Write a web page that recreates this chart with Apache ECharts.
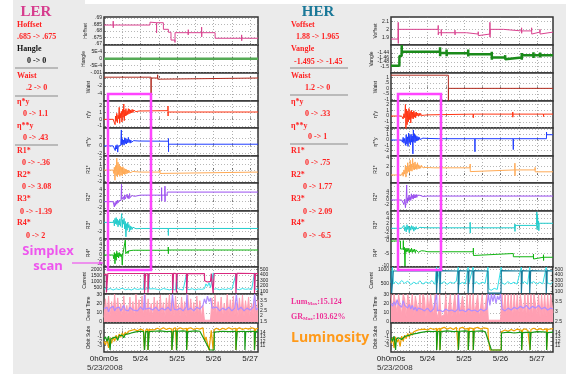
<!DOCTYPE html>
<html><head><meta charset="utf-8">
<script src="https://cdn.jsdelivr.net/npm/echarts@6.0.0/dist/echarts.min.js"></script>
<style>html,body{margin:0;padding:0;background:#fff}#c{width:566px;height:374px}</style>
</head><body><div id="c"></div>
<script>
// ---------- time axis (hours from 5/23 0h) ----------
const dayTickHours = [0, 24, 48, 72, 96];
const dayTickLabels = ['0h0m0s', '5/24', '5/25', '5/26', '5/27'];
const halfDayGridHours = [12, 24, 36, 48, 60, 72, 84, 96];

// ---------- LER data ----------
const lerHoffset = [[0,.6846],[6,.6846],[6.05,.6876],[6.1,.6825],[6.15,.6846],[30.2,.6846],[30.25,.6868],[30.3,.6864],[34.5,.6864],[34.55,.6785],[34.6,.6864],[39,.6864],[39.05,.6813],[42.3,.6813],[42.35,.6790],[44,.6790],[44.05,.6730],[46.6,.6730],[46.65,.6712],[46.7,.6787],[55.3,.6787],[55.35,.6770],[55.4,.6810],[55.45,.6787],[64.1,.6787],[64.15,.6830],[64.2,.6755],[64.25,.6787],[73,.6787],[73.05,.6744],[90.4,.6744],[90.45,.6770],[90.5,.6725],[90.55,.6744],[101.2,.6744]];
const lerHangle = [[0,0],[101.2,0]];
const lerWaist = [[0,0.2],[30.9,0.2],[30.95,-5.3],[31,0],[35.2,0],[35.25,0.8],[35.3,-0.3],[35.35,0],[101.2,0]];
const lerEtaY = [[0,0],[6,0],[7,0],[7.3,-0.8],[7.6,0.5],[8,-0.3],[8.4,0.9],[8.8,-0.5],[9.2,0.6],[9.6,0.1],[10,1.8],[10.3,-0.6],[10.7,0.9],[11,0.2],[11.4,1.2],[11.8,-0.4],[12.2,1.5],[12.6,0.3],[13,2.3],[13.3,-0.2],[13.7,1.4],[14,0.5],[14.4,1.6],[14.8,0.6],[15.2,1.3],[15.6,0.7],[16,1.6],[16.4,0.8],[16.8,1.5],[17.2,0.9],[17.6,1.4],[18,1.0],[18.5,1.5],[19,1.0],[19.5,1.4],[20,1.1],[20.5,1.45],[21,1.15],[22,1.3],[23,1.25],[24,1.3],[42,1.3],[42.05,2.0],[42.1,0.5],[42.15,1.1],[101.2,1.1]];
const lerEta2Y = [[0,0],[6,0],[6.5,-0.3],[7,0.2],[7.4,-1.2],[7.8,0.1],[8.2,-0.8],[8.6,0.3],[9,-1.6],[9.4,0],[9.8,-0.5],[10.2,0.4],[10.6,-0.3],[11,0.1],[11.4,4.1],[11.6,0.3],[12,1.8],[12.4,0.4],[12.8,1.5],[13.2,0.2],[13.6,2.1],[14,0.6],[14.4,1.9],[14.8,0.5],[15.2,1.7],[15.6,0.8],[16,2.2],[16.4,0.9],[16.8,1.6],[17.2,0.7],[17.6,1.5],[18,0.9],[18.5,1.4],[19,1.0],[19.5,1.35],[20,1.05],[21,1.3],[22,1.15],[23,1.25],[24,1.2],[42.3,1.2],[42.35,1.9],[42.4,-1.5],[42.45,0.43],[101.2,0.43]];
const lerR1 = [[0,0],[6,0],[6.4,-0.6],[6.8,0.5],[7.2,-1.8],[7.6,0.8],[8,-0.9],[8.4,2.1],[8.8,-1.2],[9.2,1.4],[9.6,-0.8],[10,1.0],[10.4,-1.1],[10.8,0.7],[11.2,-0.9],[11.6,0.5],[12,-1.0],[12.4,0.6],[12.8,-0.7],[13.2,0.3],[13.6,-0.8],[14,0.2],[14.4,-0.7],[14.8,0.1],[15.2,-0.6],[15.6,0],[16,-0.5],[16.5,-0.1],[17,-0.5],[17.5,-0.2],[18,-0.45],[19,-0.25],[20,-0.4],[21,-0.3],[22,-0.38],[24,-0.36],[36.7,-0.36],[36.75,0],[36.8,-0.6],[36.85,-0.36],[101.2,-0.36]];
const lerR2 = [[0,0],[6,0],[6.4,-0.6],[6.8,-1.7],[7.2,-0.3],[7.6,-1.2],[8,0.2],[8.4,-0.8],[8.8,0.5],[9.2,-0.4],[9.6,0.3],[10,-0.2],[10.4,0.6],[10.8,0],[11.2,0.4],[11.5,5.6],[11.7,0.8],[12,1.4],[12.4,0.3],[12.8,1.6],[13.2,0.6],[13.6,2.2],[14,0.9],[14.4,1.4],[14.8,0.5],[15.2,2.4],[15.6,1.1],[16,1.8],[16.4,0.9],[16.8,2.6],[17.2,1.3],[17.6,1.9],[18,1.2],[18.5,2.0],[19,1.5],[19.5,2.1],[20,1.7],[21,2.0],[22,1.9],[24,2.1],[37.8,2.1],[37.85,4.5],[37.9,0.2],[37.95,2.1],[40,2.1],[40.05,5.0],[40.1,0],[40.15,2.1],[41.5,2.1],[41.55,3.08],[101.2,3.08]];
const lerR3 = [[0,0],[6,0],[6.4,0.5],[6.8,-0.8],[7.2,0.9],[7.6,-0.3],[8,1.1],[8.4,-0.5],[8.8,0.7],[9.2,-1.0],[9.6,0.4],[10,-0.6],[10.4,0.8],[10.8,-0.9],[11.2,0.3],[11.6,2.0],[12,-1.2],[12.4,0.6],[12.8,-0.4],[13.2,0.9],[13.6,-1.5],[14,0.2],[14.4,-3.3],[14.8,-0.3],[15.2,-1.8],[15.6,0],[16,-1.2],[16.4,-0.5],[16.8,-2.1],[17.2,-0.8],[17.6,-1.7],[18,-1.0],[18.5,-1.6],[19,-1.1],[19.5,-1.5],[20,-1.25],[21,-1.45],[22,-1.3],[24,-1.39],[42.2,-1.39],[42.25,-1.2],[42.3,-3.0],[42.35,-1.39],[101.2,-1.39]];
const lerR4 = [[0,0],[6,0],[6.4,-1.5],[6.8,1.0],[7.2,-3.5],[7.6,0.5],[8,-2.0],[8.4,1.5],[8.8,-0.8],[9.2,0.8],[9.6,-1.2],[10,1.0],[10.4,-0.5],[10.8,0.5],[11.2,-0.7],[11.6,0.2],[12,-4.0],[12.4,0.4],[12.8,-0.3],[13.2,0.8],[13.6,-0.2],[14,6.0],[14.3,0.5],[14.6,1.2],[15,0.3],[15.4,1.5],[15.8,0.6],[16.2,1.6],[16.6,0.9],[17,1.7],[17.4,1.0],[17.8,1.8],[18.2,1.2],[18.6,1.8],[19,1.4],[19.5,1.9],[20,1.5],[21,1.9],[22,1.7],[24,1.9],[42.2,1.9],[42.25,3.2],[42.3,0.5],[42.35,2.0],[101.2,2.0]];
const lerCurrent = [[0,1550],[1.5,1600],[1.6,100],[2.4,100],[2.5,1650],[26.5,1650],[26.6,50],[27.2,50],[27.3,1650],[28.8,1640],[28.9,80],[29.5,80],[29.6,1650],[45,1650],[45.1,60],[45.6,60],[45.7,1660],[47.5,1650],[47.6,100],[48,100],[48.1,1650],[54.2,1650],[54.3,40],[54.8,40],[54.9,1640],[66,1650],[66.1,1050],[67,1150],[68,950],[69,1100],[70,1000],[70.5,1650],[71.6,1650],[71.7,60],[72.3,60],[72.4,1650],[86.6,1650],[86.7,50],[87.3,50],[87.4,1660],[98.8,1650],[98.9,60],[99.4,60],[99.5,1650],[101.2,1640]];
const lerCurrentB = [[0,380],[1.5,420],[1.6,1500],[1.8,300],[2.5,350],[4,420],[6,300],[8,400],[10,330],[12,450],[14,320],[16,380],[18,300],[20,420],[22,340],[24,390],[26,350],[26.6,1700],[26.8,350],[28,300],[29,420],[29.5,1650],[29.7,380],[31,310],[33,400],[35,350],[37,300],[39,420],[41,360],[43,310],[45,380],[45.2,1680],[45.4,340],[47,300],[48,1600],[48.2,420],[50,350],[52,300],[54.3,1650],[54.5,380],[56,330],[58,400],[60,300],[62,380],[64,350],[66,400],[67,800],[68,600],[69,900],[70,500],[71,420],[71.8,1700],[72,350],[74,400],[76,320],[78,390],[80,340],[82,410],[84,330],[86.8,1650],[87,380],[89,320],[91,420],[93,350],[95,390],[97,330],[98.9,1700],[99.1,380],[101.2,350]];
const lerDeadA = [[0,5],[1,25],[2,8],[3,28],[4,6],[5,22],[6,10],[7,30],[8,7],[9,26],[10,9],[11,20],[12,5],[13,28],[14,8],[15,18],[16,6],[17,27],[18,9],[19,22],[20,5],[21,30],[22,7],[23,24],[24,10],[25,28],[26,6],[27,30],[28,8],[29,25],[30,7],[31,20],[32,5],[33,27],[34,9],[35,23],[36,6],[37,29],[38,8],[39,21],[40,5],[41,26],[42,10],[43,30],[44,7],[45,24],[46,6],[47,28],[48,9],[49,19],[50,6],[51,27],[52,8],[53,22],[54,5],[55,30],[56,9],[57,25],[58,7],[59,21],[60,6],[61,28],[62,8],[63,23],[64,5],[65,18],[66,2],[67,3],[68,2],[69,4],[70,2],[71,26],[72,8],[73,29],[74,6],[75,22],[76,9],[77,27],[78,5],[79,20],[80,8],[81,30],[82,6],[83,24],[84,9],[85,28],[86,7],[87,21],[88,5],[89,26],[90,8],[91,29],[92,6],[93,23],[94,9],[95,27],[96,5],[97,20],[98,8],[99,28],[100,7],[101.2,24]];
const lerDeadB = [[0,14],[1,12],[2,16],[3,11],[4,15],[5,13],[6,17],[7,12],[8,15],[9,13],[10,16],[11,12],[12,14],[13,18],[14,13],[15,15],[16,12],[17,16],[18,14],[19,13],[20,15],[22,12],[24,16],[26,13],[26.6,30],[27,14],[28,12],[30,15],[32,13],[34,16],[36,12],[38,15],[40,13],[42,16],[44,12],[45,30],[46,14],[48,13],[50,15],[52,12],[54,16],[54.5,30],[55,13],[57,15],[59,12],[61,16],[63,14],[65,18],[66,25],[67,20],[68,28],[69,22],[70,26],[71,15],[72,13],[74,16],[76,12],[78,15],[80,13],[82,16],[84,12],[86,15],[87,30],[88,13],[90,16],[92,12],[94,15],[96,13],[98,16],[99,30],[100,13],[101.2,15]];
const lerLum = [[0,12],[1,11.2],[2,12.5],[3,10.5],[4,12.8],[5,11.5],[6,13],[7,12],[8,13.4],[9,12.6],[10,13.7],[11,12.9],[12,13.9],[13,13.3],[14,14.1],[15,13.6],[16,14.3],[17,13.9],[18,14.5],[19,14.1],[20,14.7],[22,14.4],[24,14.8],[26,14.5],[26.6,10],[27.2,10],[27.4,14.6],[28.8,14.8],[28.9,10],[29.5,10],[29.7,14.7],[31,14.9],[33,14.6],[35,15],[37,14.7],[39,15.1],[41,14.7],[43,15],[44.5,14.8],[44.6,10],[45.5,10],[45.6,14.9],[47,15.1],[47.6,10],[48,10],[48.2,14.8],[50,15.1],[52,14.8],[54.2,15],[54.3,10],[54.9,10],[55,14.9],[57,15.1],[59,14.7],[61,15],[63,14.8],[65,15.1],[66,14.9],[66.2,12],[67,13],[68,11.5],[69,10],[70,10],[70.5,14.5],[71.6,14.6],[71.7,10],[72.4,10],[72.5,14.7],[74,15],[76,14.6],[78,15],[80,14.7],[82,15.1],[84,14.8],[86.6,15],[86.7,10],[87.4,10],[87.5,14.8],[89,15.1],[91,14.7],[93,15],[95,14.8],[97,15.1],[98.8,14.9],[98.9,10],[99.5,10],[99.6,14.8],[101.2,15]];
const lerLumSpec = [[0,12.5],[1,13],[2,12],[3,13.2],[4,10],[4.5,12.5],[6,12.8],[8,13],[9,12.2],[10,13.3],[12,13.4],[13,12.8],[14,13.6],[16,13.7],[18,13.9],[20,14.1],[22,14.2],[24,14.3],[26,14.2],[26.6,10],[27.2,10],[27.4,14.2],[28.8,14.3],[28.9,10],[29.5,10],[29.7,14.2],[33,14.3],[37,14.4],[41,14.2],[44.5,14.3],[44.6,10],[45.5,10],[45.6,14.3],[47.6,14.4],[47.7,10],[48,10],[48.2,14.3],[52,14.4],[54.2,14.3],[54.3,10],[54.9,10],[55,14.2],[60,14.4],[63,14.3],[69.5,10],[72.4,10],[72.5,14.1],[78,14.3],[82,14.2],[86.6,14.3],[86.7,10],[87.4,10],[87.5,14.2],[92.5,14.3],[92.6,10],[93,10],[93.1,14.2],[98.8,14.3],[98.9,10],[99.5,10],[99.6,14.2],[101.2,14.3]];

// ---------- HER data ----------
const herVoffset = [[0,1.876],[4.7,1.876],[4.75,2.09],[4.8,1.82],[4.85,2.0],[31,2.0],[31.05,2.05],[31.1,1.93],[31.15,1.957],[33,1.957],[33.05,2.0],[33.1,1.92],[33.15,1.957],[42,1.957],[42.05,1.99],[42.1,1.93],[42.15,1.957],[49.7,1.957],[49.75,1.94],[57.3,1.94],[57.35,1.97],[57.4,1.92],[57.45,1.94],[65,1.94],[65.05,2.09],[65.1,1.9],[65.15,2.0],[73.9,2.0],[73.95,1.98],[85.8,1.98],[85.85,2.02],[85.9,1.95],[85.95,1.98],[92.4,1.98],[92.45,2.02],[92.5,1.94],[92.55,1.965],[97.9,1.965],[97.95,2.0],[98,1.94],[98.05,1.965],[106.5,1.965]];
const herVangle = [[0,-1.497],[5.5,-1.497],[5.55,-1.454],[7,-1.454],[7.05,-1.405],[7.1,-1.435],[32.2,-1.435],[32.25,-1.415],[32.3,-1.455],[32.35,-1.44],[36.5,-1.44],[36.55,-1.425],[36.6,-1.455],[36.65,-1.442],[50.7,-1.442],[50.75,-1.425],[50.8,-1.456],[50.85,-1.446],[66.2,-1.446],[66.25,-1.435],[66.3,-1.47],[66.35,-1.46],[75,-1.46],[75.05,-1.45],[75.1,-1.468],[75.15,-1.46],[85.9,-1.46],[85.95,-1.44],[86,-1.47],[86.05,-1.45],[93.6,-1.45],[93.65,-1.437],[93.7,-1.462],[93.75,-1.45],[98,-1.45],[98.05,-1.438],[98.1,-1.46],[98.15,-1.45],[106.5,-1.45]];
const herWaist = [[0,1.2],[37.7,1.2],[37.75,-1.1],[37.8,0],[106.5,0]];
const herEtaY = [[0,0],[7,0],[7.5,0.3],[8,-0.5],[8.5,0.4],[9,-0.3],[9.5,2.0],[9.8,-2.3],[10.2,1.2],[10.6,-1.5],[11,0.9],[11.4,-1.0],[11.8,1.3],[12.2,-0.6],[12.6,0.8],[13,-1.2],[13.4,1.0],[13.8,-0.4],[14.2,0.7],[14.6,-0.5],[15,0.9],[15.4,-0.2],[15.8,0.6],[16.2,-0.3],[16.6,0.7],[17,0],[17.5,0.5],[18,0],[18.5,0.5],[19,0.05],[19.5,0.45],[20,0.1],[21,0.4],[22,0.15],[23,0.35],[24,0.2],[25,0.33],[54,0.33],[54.05,0.6],[54.1,-0.3],[54.15,0.33],[80,0.33],[80.05,0.7],[80.1,-0.2],[80.15,0.33],[100.2,0.33],[100.25,0.6],[100.3,-0.1],[100.35,0.33],[106.5,0.33]];
const herEta2Y = [[0,0],[7,0],[7.5,-0.4],[8,0.5],[8.5,-0.6],[9,0.3],[9.5,-1.0],[10,1.0],[10.4,-0.8],[10.8,0.6],[11.2,-1.2],[11.6,1.3],[12,-0.5],[12.4,0.9],[12.8,-0.9],[13.2,1.1],[13.6,-0.4],[14,0.8],[14.4,-2.6],[14.7,1.9],[15,-0.3],[15.4,1.2],[15.8,-0.5],[16.2,0.9],[16.6,-0.2],[17,0.7],[17.4,-0.1],[17.8,0.6],[18.2,0],[18.6,0.5],[19,0.1],[19.5,0.4],[20,0.15],[21,0.35],[22,0.2],[24,0.3],[31,0.25],[55.1,0.25],[55.15,0.5],[55.2,-2.2],[55.25,0.25],[80.3,0.25],[80.35,0.6],[80.4,-1.8],[80.45,0.25],[102.2,0.25],[102.25,1.5],[102.3,1.0],[106.5,1.0]];
const herR1 = [[0,0],[7,0],[7.5,0.6],[8,-0.3],[8.5,1.2],[9,0.2],[9.5,2.3],[9.8,-0.5],[10.2,1.8],[10.6,0.4],[11,2.9],[11.4,0.8],[11.8,2.2],[12.2,0.5],[12.6,3.5],[13,1.0],[13.4,2.6],[13.8,0.9],[14.2,3.9],[14.6,1.3],[15,2.8],[15.4,1.2],[15.8,3.1],[16.2,1.4],[16.6,2.5],[17,1.3],[17.4,2.9],[17.8,1.5],[18.2,2.4],[18.6,1.5],[19,2.2],[19.5,1.6],[20,2.3],[21,1.7],[22,2.0],[23,1.8],[24,1.9],[25,1.75],[28,1.7],[52,1.7],[52.05,2.6],[52.1,0.8],[52.15,1.2],[81.4,1.2],[81.45,2.8],[81.5,-0.2],[81.55,1.2],[94.7,1.2],[94.75,1.8],[94.8,0.75],[106.5,0.75]];
const herR2 = [[0,0],[7,0],[7.5,-0.8],[8,0.6],[8.5,-2.0],[9,0.4],[9.5,-3.5],[10,0.5],[10.3,6.8],[10.6,-1.5],[11,1.0],[11.4,-0.5],[11.8,2.2],[12.2,0.2],[12.6,1.5],[13,-0.2],[13.4,2.8],[13.8,0.6],[14.2,2.0],[14.6,0.4],[15,2.6],[15.4,0.9],[15.8,2.3],[16.2,1.0],[16.6,2.5],[17,1.2],[17.4,2.2],[17.8,1.3],[18.2,2.3],[18.6,1.4],[19,2.1],[19.5,1.5],[20,2.0],[21,1.6],[22,1.9],[24,1.77],[52,1.77],[52.05,2.4],[52.1,1.2],[52.15,1.77],[80.4,1.77],[80.45,2.5],[80.5,1.1],[80.55,1.77],[106.5,1.77]];
const herR3 = [[0,0],[7,0],[7.5,0.8],[8,-0.6],[8.5,1.2],[9,-1.0],[9.5,0.6],[10,-1.5],[10.5,1.5],[11,-0.5],[11.5,0.9],[12,-1.8],[12.5,0.6],[13,-0.8],[13.5,1.1],[14,-0.4],[14.5,0.8],[15,-1.2],[15.5,0.4],[16,-0.6],[16.5,0.7],[17,-0.3],[17.5,0.5],[18,-0.2],[19,0.4],[20,0],[21,0.3],[22,0.1],[24,0.2],[52,0.2],[52.05,2.5],[52.1,-2.0],[52.15,0.2],[81.4,0.2],[81.45,1.8],[81.5,-1.3],[81.55,1.2],[95.8,1.2],[95.85,6.8],[96,-0.5],[96.3,5.5],[96.6,2.0],[97,3.0],[97.2,-1.0],[97.4,2.09],[106.5,2.09]];
const herR4 = [[0,0],[6.2,0],[6.25,-3.2],[8,-3.2],[8.1,0.2],[8.3,-3.5],[8.8,-2.5],[9.2,-10],[9.5,-3.0],[10,-4.5],[10.5,-2.8],[11,-4.2],[11.5,-3.0],[12,-4.8],[12.5,-3.3],[13,-4.4],[13.5,-2.9],[14,-4.6],[14.5,-3.4],[15,-4.3],[15.5,-3.2],[16,-4.7],[16.5,-3.6],[17,-4.4],[17.5,-3.5],[18,-4.5],[18.5,-3.8],[19,-4.4],[20,-3.9],[21,-4.4],[22,-4.0],[24,-4.3],[54.1,-4.3],[54.15,-2.8],[54.2,-5.8],[54.25,-5.0],[80.4,-5.0],[80.45,-6.3],[93.6,-6.3],[93.65,-5.2],[93.7,-7.2],[93.75,-6.5],[100.2,-6.5],[100.25,-5.5],[100.3,-7.8],[100.35,-6.5],[106.5,-6.5]];
const herCurrent = [[0,950],[0.4,950],[0.45,150],[1.4,150],[1.5,940],[29.9,940],[30,150],[30.6,150],[30.7,950],[32.1,940],[32.2,150],[32.7,150],[32.8,950],[44.2,940],[44.3,150],[44.9,150],[45,950],[50.7,940],[50.8,150],[51.3,150],[51.4,950],[54,940],[54.1,150],[54.6,150],[54.7,950],[63.8,940],[63.9,150],[72.5,150],[72.6,950],[85.8,940],[85.9,150],[86.4,150],[86.5,950],[91.3,940],[91.4,150],[91.9,150],[92,950],[102.2,940],[102.3,150],[102.8,150],[102.9,950],[106.5,940]];
const herCurrentB = [[0,520],[1,1080],[1.5,480],[3,560],[5,470],[7,600],[9,500],[11,580],[13,450],[15,540],[17,480],[19,590],[21,470],[23,550],[25,500],[27,600],[29,460],[30,1080],[30.5,520],[32.2,1080],[32.8,480],[35,560],[37,460],[39,540],[41,500],[43,570],[44.3,1080],[45,470],[47,530],[49,480],[50.8,1080],[51.4,520],[54.1,1080],[54.7,480],[56,560],[58,470],[60,540],[62,500],[63.9,1080],[64.5,300],[66,250],[68,320],[70,280],[72.6,1080],[73,520],[75,460],[77,560],[79,480],[81,540],[83,470],[85.9,1080],[86.5,500],[88,560],[90,470],[91.4,1080],[92,500],[94,560],[96,470],[98,540],[100,480],[102.3,1080],[103,520],[105,470],[106.5,540]];
const herDeadA = [[0,30],[1,12],[2,30],[3,28],[4,10],[5,30],[6,30],[7,8],[8,30],[9,25],[10,5],[11,30],[12,30],[13,15],[14,30],[15,6],[16,28],[17,30],[18,10],[19,30],[20,8],[21,30],[22,26],[23,5],[24,30],[25,12],[26,30],[27,30],[28,7],[29,30],[30,10],[31,4],[32,30],[33,6],[34,5],[35,8],[36,30],[37,4],[38,6],[39,30],[40,5],[41,7],[42,30],[43,4],[44,30],[45,6],[46,5],[47,28],[48,30],[49,6],[50,30],[51,7],[52,30],[53,5],[54,30],[55,8],[56,6],[57,30],[58,5],[59,7],[60,30],[61,6],[62,5],[63,30],[64,2],[66,2],[68,2],[70,2],[72,2],[73,30],[74,10],[75,30],[76,6],[77,30],[78,8],[79,30],[80,5],[81,30],[82,7],[83,30],[84,6],[85,30],[86,30],[87,8],[88,30],[89,5],[90,30],[91,7],[92,30],[93,6],[94,30],[95,30],[96,8],[97,30],[98,5],[99,30],[100,7],[101,30],[102,6],[103,30],[104,8],[105,30],[106.5,10]];
const herDeadB = [[0,20],[1,17],[2,22],[3,18],[4,24],[5,19],[6,21],[7,16],[8,23],[9,18],[10,20],[11,15],[12,19],[13,14],[14,18],[15,13],[16,16],[17,12],[18,15],[19,13],[20,14],[22,12],[24,15],[26,11],[28,14],[30,30],[30.5,12],[32,13],[34,11],[36,14],[38,12],[40,13],[42,11],[44,14],[44.3,30],[45,12],[47,13],[49,11],[51,14],[53,12],[55,13],[57,11],[59,14],[61,12],[63,14],[64,30],[65,18],[66,30],[67,22],[68,30],[69,20],[70,28],[71,24],[72,30],[73,14],[75,12],[77,15],[79,13],[81,16],[83,14],[85,17],[87,15],[89,18],[91,14],[93,17],[95,15],[97,18],[99,14],[101,16],[103,13],[105,15],[106.5,14]];
const herLum = [[0,11.5],[1,12.8],[2,10.5],[3,13],[4,11.8],[5,12.5],[6,10.8],[7,13.2],[8,12],[9,13.4],[10,12.6],[11,13.8],[12,13],[13,14],[14,13.4],[15,14.2],[16,13.8],[17,14.5],[18,14.1],[19,14.7],[20,14.3],[22,14.8],[24,14.6],[26,15],[28,14.7],[29.9,15],[30,10],[30.6,10],[30.7,14.8],[32.1,15],[32.2,10],[32.7,10],[32.8,14.9],[35,15.2],[37,14.8],[39,15.1],[41,14.7],[43,15.2],[44.2,14.9],[44.3,10],[44.9,10],[45,15],[47,15.2],[49,14.8],[50.7,15],[50.8,10],[51.3,10],[51.4,15.1],[54,14.9],[54.1,10],[54.6,10],[54.7,15],[57,15.2],[59,14.8],[61,15.1],[63.8,14.9],[63.9,13],[65,10],[72.5,10],[72.6,14.2],[75,14.6],[77,14.3],[79,14.7],[81,14.4],[83,14.8],[85.8,14.5],[85.9,10],[86.4,10],[86.5,14.6],[88,14.9],[90,14.5],[91.3,14.8],[91.4,10],[91.9,10],[92,14.7],[94,15],[96,14.6],[98,14.9],[100,14.6],[102.2,14.9],[102.3,10],[102.8,10],[102.9,14.7],[106.5,14.9]];
const herLumSpec = [[0,12.8],[1,12],[2,13.2],[3,10],[3.5,12.5],[5,12.8],[7,12.4],[9,13.1],[11,13.3],[13,13.5],[15,13.7],[17,13.8],[19,14],[21,14.1],[23,14.2],[25,14.3],[27,14.2],[29.9,14.3],[30,10],[30.6,10],[30.7,14.2],[32.1,14.3],[32.2,10],[32.7,10],[32.8,14.2],[37,14.4],[41,14.2],[44.2,14.3],[44.3,10],[44.9,10],[45,14.3],[49,14.4],[50.7,14.3],[50.8,10],[51.3,10],[51.4,14.2],[54,14.3],[54.1,10],[54.6,10],[54.7,14.3],[60,14.4],[62,14.2],[66,10],[72.5,10],[72.6,13.9],[77,14.1],[81,13.9],[85.8,14.1],[85.9,10],[86.4,10],[86.5,14],[91.3,14.1],[91.4,10],[91.9,10],[92,14],[96,14.2],[102.2,14.1],[102.3,10],[102.8,10],[102.9,14],[106.5,14.1]];

// ---------- tick values ----------
const lerTicks = [[.67,.675,.68,.685,.69],[-.001,-.0005,0,.0005],[-4,-2,0],[-1,0,1,2],[-2,0,2],[-2,-1,0,1,2],[-2,0,2,4],[-2,0,2],[-4,-2,0,2,4,6],[500,1000,1500,2000],[0,10,20,30],[-4,-3,-2,-1,0,1]];
const herTicks = [[1.9,2,2.1],[-1.52,-1.5,-1.48,-1.46,-1.44,-1.42],[-1,-.5,0,.5,1],[-2,-1,0,1,2],[-2,-1,0,1,2],[0,2,4],[-4,-2,0,2,4,6],[-4,-2,0,2,4,6],[-10,-5,0],[500,1000],[0,10,20,30],[-4,-3,-2,-1,0,1]];
const rightTicksCurrent = [100,200,300,400,500];
const lerRightTicksDead = [1.5,2,2.5,3,3.5,4];
const herRightTicksDead = [2.5,3,3.5];
const lumTicks = [10,11,12,13,14,15];

// ---------- layout / build ----------
const EDGES = [17,45,73,101,128,156,183,211,239,267,294,323,352];
const SIDES = {
  LER: {left:104, width:154, max:101.2},
  HER: {left:391, width:162, max:106.5}
};
const lerRanges = [[.6692,.6908],[-.00105,.001],[-5.75,1.25],[-1.3,2.75],[-2.6,4.6],[-2.3,2.5],[-3,6],[-3.8,2.6],[-4.8,6.4],[-30,2180],[-1,30.2],[-4.46,2.2]];
const herRanges = [[1.80,2.158],[-1.529,-1.405],[-1.15,1.4],[-2.07,2.6],[-3.0,2.26],[-1.9,4.5],[-5,7.7],[-4.46,7.2],[-10.4,0.8],[118,1082],[-1,30.2],[-4.46,2.2]];
const lerNames = ['Hoffset','Hangle','Waist','η*y','η**y','R1*','R2*','R3*','R4*','Current','Dead Time','Orbit Subs'];
const herNames = ['Voffset','Vangle','Waist','η*y','η**y','R1*','R2*','R3*','R4*','Current','Dead Time','Orbit Subs'];
const lerSeries = [[lerHoffset],[lerHangle],[lerWaist],[lerEtaY],[lerEta2Y],[lerR1],[lerR2],[lerR3],[lerR4],[lerCurrent,lerCurrentB],[lerDeadA,lerDeadB],[lerLum,lerLumSpec]];
const herSeries = [[herVoffset],[herVangle],[herWaist],[herEtaY],[herEta2Y],[herR1],[herR2],[herR3],[herR4],[herCurrent,herCurrentB],[herDeadA,herDeadB],[herLum,herLumSpec]];
const topColors = ['#d9438f','#55aa55','#b02a1e','#ff3311','#1f3cff','#ffaa55','#9a4ff0','#22cccc','#12b512'];
const herTopColors = ['#d9438f','#1a8a1a','#b02a1e','#ff3311','#1f3cff','#ffaa55','#9a4ff0','#22cccc','#12b512'];

function fmtY(v){
  if (v === 0) return '0';
  if (Math.abs(v) < 0.001) return v.toExponential(0).replace('e','E').replace('+','');
  let s = String(+v.toFixed(6));
  return s.replace(/^0\./,'.').replace(/^-0\./,'-.');
}

const grids=[], xAxes=[], yAxes=[], series=[];
function build(sideKey, ranges, ticks, names, data, colors){
  const S = SIDES[sideKey];
  for (let i=0;i<12;i++){
    const gi = grids.length;
    grids.push({left:S.left, width:S.width, top:EDGES[i], height:EDGES[i+1]-EDGES[i], show:true, backgroundColor:'#ffffff', borderColor:'#333', borderWidth:1.5});
    xAxes.push({gridIndex:gi, type:'value', min:0, max:S.max,
      axisLine:{show:false},
      axisTick:{show:true, inside:true, length:2, customValues:halfDayGridHours, lineStyle:{color:'#333',width:0.6}},
      splitLine:{show:true, lineStyle:{type:[1,2], color:'#777', width:0.6}},
      axisLabel:{show:i===11, customValues:dayTickHours, fontSize:8, color:'#222', margin:3, fontFamily:'Liberation Sans',
        formatter:v=>dayTickLabels[dayTickHours.indexOf(v)] || ''}});
    const yi = yAxes.length;
    yAxes.push({gridIndex:gi, type:'value', min:ranges[i][0], max:ranges[i][1], position:'left',
      name:names[i], nameLocation:'middle', nameRotate:90, nameGap:13,
      nameTextStyle:{fontSize:5, color:'#222', fontFamily:'Liberation Sans'},
      axisLine:{show:false},
      axisTick:{show:true, inside:true, length:2, customValues:ticks[i], lineStyle:{color:'#333',width:0.6}},
      splitLine:{show:true, lineStyle:{type:[1,2], color:'#888', width:0.6}},
      axisLabel:{customValues:ticks[i], fontSize:5, margin:2, color:'#222', fontFamily:'Liberation Sans', formatter:fmtY}});
    let yr = null;
    if (i >= 9){
      yr = yAxes.length;
      let rr, rt;
      if (i===9){ rr=[59,541]; rt=rightTicksCurrent; }
      else if (i===10){ rr = sideKey==='LER'?[1.33,4.1]:[2.435,3.885]; rt = sideKey==='LER'?lerRightTicksDead:herRightTicksDead; }
      else { rr=[9.54,16.2]; rt=lumTicks; }
      yAxes.push({gridIndex:gi, type:'value', min:rr[0], max:rr[1], position:'right',
        axisLine:{show:false}, splitLine:{show:false},
        axisTick:{show:true, inside:true, length:2, customValues:rt, lineStyle:{color:'#333',width:0.6}},
        axisLabel:{customValues:rt, fontSize:5, margin:2, color:'#222', fontFamily:'Liberation Sans', formatter:fmtY}});
    }
    const base = {type:'line', xAxisIndex:gi, showSymbol:false, symbol:'none', animation:false, silent:true};
    if (i < 9){
      series.push(Object.assign({}, base, {yAxisIndex:yi, data:data[i][0],
        lineStyle:{color:colors[i], width: i===1 ? 2.5 : 1}}));
    } else if (i===9){
      const c1 = sideKey==='LER' ? '#d8287f' : '#1a7a9a';
      series.push(Object.assign({}, base, {yAxisIndex:yi, data:data[i][1], lineStyle:{color:'#33e0e8', width:1}}));
      series.push(Object.assign({}, base, {yAxisIndex:yi, data:data[i][0], lineStyle:{color:c1, width:1.2}}));
    } else if (i===10){
      series.push(Object.assign({}, base, {yAxisIndex:yi, data:data[i][0], lineStyle:{color:'#ff9fb2', width:1}, areaStyle:{color:'#ff9fb2', opacity:1}}));
      series.push(Object.assign({}, base, {yAxisIndex:yi, data:data[i][1], lineStyle:{color:'#b08cff', width:1.2}}));
    } else {
      series.push(Object.assign({}, base, {yAxisIndex:yr, data:data[i][0], lineStyle:{color:'#f0a000', width:1.2}}));
      series.push(Object.assign({}, base, {yAxisIndex:yr, data:data[i][1], lineStyle:{color:'#169916', width:1.2}}));
    }
  }
}
build('LER', lerRanges, lerTicks, lerNames, lerSeries, topColors);
build('HER', herRanges, herTicks, herNames, herSeries, herTopColors);

// ---------- annotation text ----------
const RED = '#ff2222';
function T(x,y,text,opt){
  return Object.assign({type:'text', x, y, silent:true, z:100,
    style:Object.assign({text, fill:RED, font:'bold 8px "Liberation Serif"', textVerticalAlign:'middle'}, opt||{})});
}
function L(x1,x2,y){ return {type:'line', silent:true, z:100, shape:{x1,y1:y,x2,y2:y}, style:{stroke:'#aaaaaa', lineWidth:1.5}}; }

const graphics = [
  {type:'rect', silent:true, z:-10, shape:{x:0,y:0,width:13,height:374}, style:{fill:'#ffffff'}},
  {type:'rect', silent:true, z:-10, shape:{x:85,y:0,width:481,height:4}, style:{fill:'#ffffff'}},
  T(36,12,'LER',{fill:'#d63c8e', font:'bold 15px "Liberation Serif"', textAlign:'center'}),
  T(17,25,'Hoffset'), T(17,37,'.685 -> .675'),
  T(17,49,'Hangle',{fill:'#111'}), T(27,61,'0 -> 0',{fill:'#111'}), L(15,58,68),
  T(17,76,'Waist'), T(26,88,'.2 -> 0'), L(15,58,96),
  T(17,102,'η*y'), T(23,114,'0 -> 1.1'),
  T(17,126,'η**y'), T(23,138,'0 -> .43'), L(15,58,145),
  T(17,151,'R1*'), T(22,163,'0 -> -.36'),
  T(17,175,'R2*'), T(22,187,'0 -> 3.08'),
  T(17,199,'R3*'), T(20,212,'0 -> -1.39'),
  T(17,223,'R4*'), T(26,236,'0 -> 2'),
  T(48,251,'Simplex',{fill:'#ee55ee', font:'bold 13px "Open Sans"', textAlign:'center'}),
  T(48,266,'scan',{fill:'#ee55ee', font:'bold 13px "Open Sans"', textAlign:'center'}),
  {type:'line', silent:true, z:100, shape:{x1:72,y1:263,x2:102,y2:263}, style:{stroke:'#ee55ee', lineWidth:1.2}},
  {type:'polygon', silent:true, z:100, shape:{points:[[104,263],[99,261],[99,265]]}, style:{fill:'#ee55ee'}},

  T(318,12,'HER',{fill:'#1a7898', font:'bold 15px "Liberation Serif"', textAlign:'center'}),
  T(291,25,'Voffset'), T(296,37,'1.88 -> 1.965'),
  T(291,49,'Vangle'), T(294,62,'-1.495 -> -1.45'), L(290,348,68),
  T(291,76,'Waist'), T(305,88,'1.2 -> 0'), L(290,348,95),
  T(291,102,'η*y'), T(305,114,'0 -> .33'),
  T(291,126,'η**y'), T(308,137,'0 -> 1'), L(290,348,144),
  T(291,151,'R1*'), T(305,163,'0 -> .75'),
  T(291,175,'R2*'), T(303,187,'0 -> 1.77'),
  T(291,199,'R3*'), T(303,212,'0 -> 2.09'),
  T(291,223,'R4*'), T(303,236,'0 -> -6.5'),
  {type:'text', x:291, y:302, silent:true, z:100, style:{text:'{a|Lum}{s|Max}{a|:15.124}', textVerticalAlign:'middle',
     rich:{a:{fill:'#ee3399', font:'bold 8px "Liberation Serif"'}, s:{fill:'#ee3399', font:'bold 5px "Liberation Serif"', padding:[4,0,0,0]}}}},
  {type:'text', x:291, y:317, silent:true, z:100, style:{text:'{a|GR}{s|Max}{a|:103.62%}', textVerticalAlign:'middle',
     rich:{a:{fill:'#ee3399', font:'bold 8px "Liberation Serif"'}, s:{fill:'#ee3399', font:'bold 5px "Liberation Serif"', padding:[4,0,0,0]}}}},
  T(291,338,'Luminosity',{fill:'#ff9a1a', font:'bold 14px "Open Sans"'}),

  T(87,368,'5/23/2008',{fill:'#333', font:'8px "Liberation Sans"'}),
  T(377,368,'5/23/2008',{fill:'#333', font:'8px "Liberation Sans"'}),

  {type:'rect', silent:true, z:110, shape:{x:108,y:94,width:43,height:176}, style:{fill:'none', stroke:'#ff44ff', lineWidth:2.5}},
  {type:'rect', silent:true, z:110, shape:{x:398,y:94,width:43,height:176}, style:{fill:'none', stroke:'#ff44ff', lineWidth:2.5}}
];

const chart = echarts.init(document.getElementById('c'), null, {renderer:'canvas', width:566, height:374});
chart.setOption({
  backgroundColor:'#ebebeb',
  animation:false,
  grid:grids, xAxis:xAxes, yAxis:yAxes, series:series,
  graphic:graphics
});
</script></body></html>
